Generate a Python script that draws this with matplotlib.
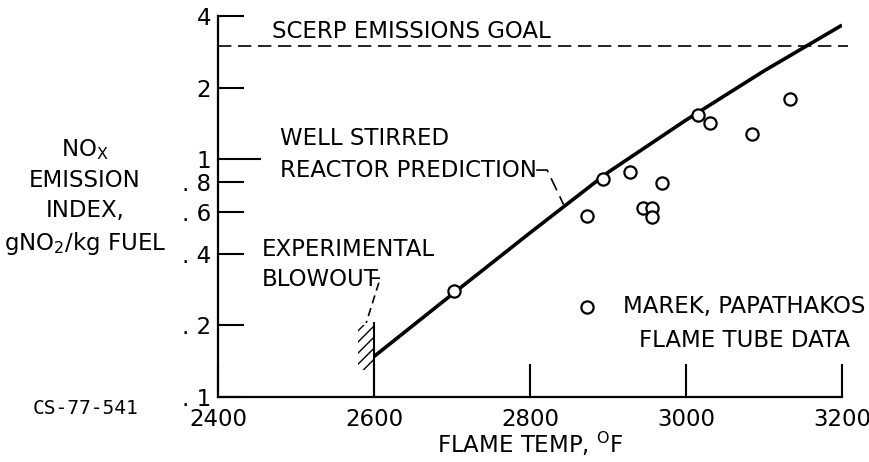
"""
NOx emission index vs flame temperature, well stirred reactor prediction
against flame tube data
"""
import numpy as np
import matplotlib
matplotlib.use("Agg")
import matplotlib.pyplot as plt
from matplotlib.ticker import FixedLocator, NullLocator

plt.rcParams['font.family'] = ['DejaVu Sans']
plt.rcParams['mathtext.default'] = 'regular'

# well stirred reactor prediction
wsr_temp = [2600, 2700, 2800, 2900, 3000, 3100, 3200]
wsr_nox = [0.148, 0.27, 0.49, 0.88, 1.46, 2.35, 3.66]

# Marek, Papathakos flame tube data
tube_temp = [2703, 2873, 2894, 2928, 2945, 2956, 2956, 2969, 3016, 3031, 3084, 3133]
tube_nox = [0.279, 0.578, 0.824, 0.882, 0.626, 0.626, 0.572, 0.795, 1.53, 1.42, 1.28, 1.79]

goal_nox = 3.0          # SCERP emissions goal
blowout_temp = 2600     # experimental blowout

x_ticks = [2400, 2600, 2800, 3000, 3200]
y_ticks = [0.1, 0.2, 0.4, 0.6, 0.8, 1, 2, 4]
y_tick_labels = ['. 1', '. 2', '. 4', '. 6', '. 8', '1', '2', '4']

FS = 16.5
MS = 8.8

fig = plt.figure(figsize=(8.7, 4.62), dpi=100)
ax = fig.add_axes([0.2506, 0.1407, 0.7172, 0.8247])

ax.set_yscale('log')
ax.set_xlim(2400, 3200)
ax.set_ylim(0.1, 4)

# prediction curve and data
ax.plot(wsr_temp, wsr_nox, color='black', lw=2.6, solid_capstyle='butt', zorder=3)
ax.plot(tube_temp, tube_nox, 'o', ms=MS, mfc='white', mec='black', mew=1.6, zorder=4)

# goal line
ax.axhline(goal_nox, color='black', lw=1.2, dashes=(8, 4), xmax=1.01, clip_on=False)
ax.text(0.0865, 0.942, 'SCERP EMISSIONS GOAL', transform=ax.transAxes,
        fontsize=FS, va='baseline', ha='left')

# blowout marker with hatching
ax.plot([blowout_temp, blowout_temp], [0.1, 0.205], color='black', lw=1.5)
ax.fill_betweenx([0.13, 0.2], blowout_temp - 20, blowout_temp, hatch='///',
                 facecolor='none', edgecolor='black', linewidth=0)
ax.text(0.0705, 0.348, 'EXPERIMENTAL\nBLOWOUT', transform=ax.transAxes,
        fontsize=FS, va='center', ha='left', linespacing=1.4)
ax.plot([2597, 2608, 2590], [0.316, 0.316, 0.205], color='black', lw=1.2,
        dashes=(5, 3))

# prediction label with leader
ax.text(0.099, 0.636, 'WELL STIRRED\nREACTOR PREDICTION', transform=ax.transAxes,
        fontsize=FS, va='center', ha='left', linespacing=1.5)
ax.plot([2808, 2822, 2843], [0.90, 0.90, 0.645], color='black', lw=1.2,
        dashes=(8, 4))

# legend entry
ax.plot([0.591], [0.236], 'o', ms=MS, mfc='white', mec='black', mew=1.6,
        transform=ax.transAxes, clip_on=False)
ax.text(0.843, 0.192, 'MAREK, PAPATHAKOS\nFLAME TUBE DATA', transform=ax.transAxes,
        fontsize=FS, va='center', ha='center', linespacing=1.6)

# axes styling
for side in ['top', 'right']:
    ax.spines[side].set_visible(False)
for side in ['left', 'bottom']:
    ax.spines[side].set_linewidth(1.6)

ax.xaxis.set_major_locator(FixedLocator(x_ticks))
ax.xaxis.set_minor_locator(NullLocator())
ax.set_xticklabels([str(t) for t in x_ticks])
ax.yaxis.set_major_locator(FixedLocator(y_ticks))
ax.yaxis.set_minor_locator(NullLocator())
ax.set_yticklabels(y_tick_labels)

ax.tick_params(axis='x', direction='in', length=24, width=1.5, pad=8, labelsize=FS)
ax.tick_params(axis='y', direction='in', length=19, width=1.5, pad=5, labelsize=FS)
# longer tick at 1
ax.yaxis.get_major_ticks()[5].tick1line.set_markersize(31)

fig.text(530 / 870, 1 - 444 / 462, 'FLAME TEMP, $^{O}$F', fontsize=FS,
         ha='center', va='center')
fig.text(85 / 870, 1 - 197 / 462, 'NO$_X$\nEMISSION\nINDEX,\ngNO$_2$/kg FUEL',
         fontsize=FS, ha='center', va='center', linespacing=1.4)
fig.text(33 / 870, 1 - 408 / 462, 'CS-77-541', fontsize=14, family='DejaVu Sans Mono',
         ha='left', va='center')

plt.savefig('out.png', dpi=100)
